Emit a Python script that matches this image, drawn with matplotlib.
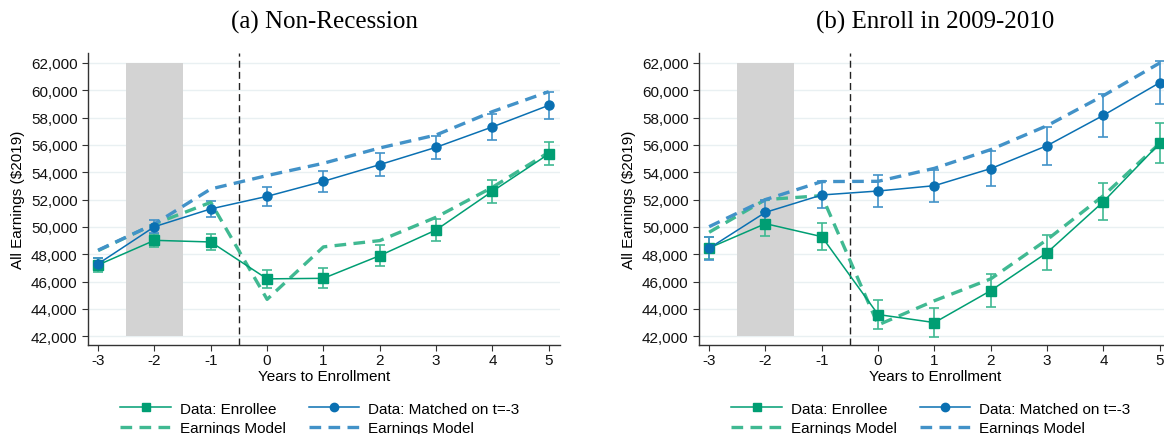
import matplotlib
matplotlib.use("Agg")
import matplotlib.pyplot as plt
import numpy as np

years = [-3, -2, -1, 0, 1, 2, 3, 4, 5]

# Panel (a) Non-Recession
a_enr = [47220, 49020, 48900, 46200, 46240, 47900, 49780, 52610, 55340]
a_enr_err = [500, 500, 560, 650, 730, 760, 780, 830, 840]
a_mat = [47300, 50020, 51320, 52240, 53340, 54560, 55830, 57320, 58900]
a_mat_err = [420, 490, 610, 680, 780, 830, 840, 950, 980]
a_enr_model = [48270, 50220, 51800, 44700, 48540, 49000, 50710, 52900, 55460]
a_mat_model = [48300, 50220, 52780, 53760, 54660, 55780, 56730, 58440, 59900]

# Panel (b) Enroll in 2009-2010
b_enr = [48460, 50240, 49290, 43590, 43000, 45340, 48120, 51850, 56120]
b_enr_err = [830, 880, 990, 1070, 1090, 1230, 1300, 1340, 1460]
b_mat = [48440, 51070, 52340, 52630, 53020, 54270, 55950, 58170, 60560]
b_mat_err = [830, 900, 990, 1150, 1180, 1270, 1400, 1560, 1560]
b_enr_model = [49610, 52000, 52290, 42830, 44600, 46200, 49070, 52290, 56120]
b_mat_model = [50020, 52000, 53320, 53340, 54290, 55660, 57410, 59610, 62000]

titles = ["(a) Non-Recession", "(b) Enroll in 2009-2010"]
labels = ["Data: Enrollee", "Earnings Model", "Data: Matched on t=-3", "Earnings Model"]
yticks = list(range(42000, 62001, 2000))

GREEN = "#009e73"
GREEN_L = "#40b992"
BLUE = "#0a70b2"
BLUE_L = "#4292c8"

plt.rcParams["font.family"] = ["Liberation Sans", "DejaVu Sans"]

fig = plt.figure(figsize=(11.64, 4.35), dpi=100)
axes = [fig.add_axes([88/1164, 89/435, 472/1164, 292/435]),
        fig.add_axes([699/1164, 89/435, 472/1164, 292/435])]

data = [(a_enr, a_enr_err, a_mat, a_mat_err, a_enr_model, a_mat_model),
        (b_enr, b_enr_err, b_mat, b_mat_err, b_enr_model, b_mat_model)]

legend_x = [320/1164, 931/1164]
FS = 11

for ax, d, title, lx in zip(axes, data, titles, legend_x):
    enr, enr_err, mat, mat_err, enr_m, mat_m = d
    ax.set_xlim(-3.18, 5.2)
    ax.set_ylim(41360, 62730)
    ax.set_yticks(yticks)
    ax.set_yticklabels([f"{v:,}" for v in yticks])
    ax.set_xticks(years)
    ax.set_xticklabels([str(y) for y in years])
    for v in yticks:
        ax.axhline(v, color="#e9f0f2", lw=1.0, zorder=0)
    ax.fill_between([-2.5, -1.5], 42000, 62000, color="#d3d3d3", lw=0, zorder=1)
    ax.axvline(-0.5, color="#222222", lw=1.0, ls=(0, (5, 3)), zorder=2)

    ax.errorbar(years, enr, yerr=enr_err, fmt="none", ecolor=GREEN_L, elinewidth=1.2,
                capsize=3.5, capthick=1.2, zorder=3)
    ax.errorbar(years, mat, yerr=mat_err, fmt="none", ecolor=BLUE_L, elinewidth=1.2,
                capsize=3.5, capthick=1.2, zorder=3)
    l1, = ax.plot(years, enr, color=GREEN, lw=1.1, marker="s", ms=7, zorder=4)
    l3, = ax.plot(years, mat, color=BLUE, lw=1.1, marker="o", ms=6.5, zorder=4)
    l2, = ax.plot(years, enr_m, color=GREEN_L, lw=2.4, ls=(0, (3.5, 2.2)), zorder=3.5)
    l4, = ax.plot(years, mat_m, color=BLUE_L, lw=2.4, ls=(0, (3.5, 2.2)), zorder=3.5)

    for s in ["top", "right"]:
        ax.spines[s].set_visible(False)
    for s in ["left", "bottom"]:
        ax.spines[s].set_color("#333333")
        ax.spines[s].set_linewidth(1.0)
    ax.tick_params(axis="both", direction="out", length=4, color="#333333",
                   labelsize=FS, labelcolor="#111111")
    ax.tick_params(axis="x", pad=2)
    ax.set_ylabel("All Earnings ($2019)", fontsize=FS, labelpad=4)
    ax.set_xlabel("Years to Enrollment", fontsize=FS, labelpad=1)
    ax.set_title(title, family=["Liberation Serif", "DejaVu Serif"], fontsize=18, pad=18)

    h1 = matplotlib.lines.Line2D([], [], color=GREEN, lw=1.1, marker="s", ms=6)
    h3 = matplotlib.lines.Line2D([], [], color=BLUE, lw=1.1, marker="o", ms=6)
    fig.legend([h1, l2, h3, l4], labels, ncol=2, loc="center",
               bbox_to_anchor=(lx, 0.036), frameon=False, fontsize=FS,
               handlelength=3.3, handletextpad=0.6, columnspacing=1.5,
               labelspacing=0.35, borderpad=0)

fig.savefig("out.png", dpi=100)
